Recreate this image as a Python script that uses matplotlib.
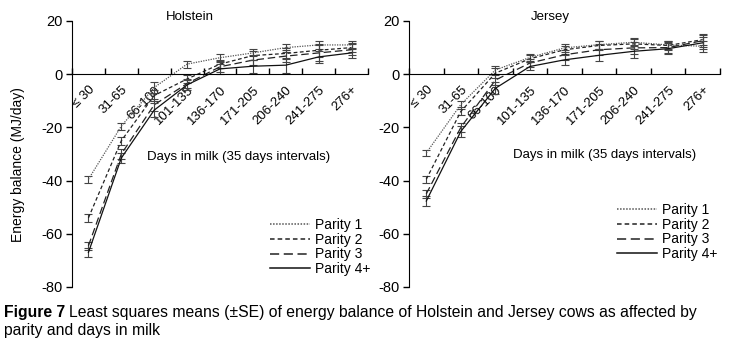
import matplotlib.pyplot as plt
from matplotlib.lines import Line2D

plt.rcParams['font.family'] = ['Liberation Sans', 'DejaVu Sans']
plt.rcParams['axes.unicode_minus'] = False

days = ['≤ 30', '31-65', '66-100', '101-135', '136-170', '171-205', '206-240', '241-275', '276+']
parities = ['Parity 1', 'Parity 2', 'Parity 3', 'Parity 4+']

# Holstein energy balance (MJ/day) per parity
hol_p1 = [-39.5, -19.5, -5.0, 3.8, 6.2, 8.0, 10.0, 11.0, 11.0]
hol_p2 = [-54.0, -25.0, -8.0, -1.8, 3.8, 7.0, 7.8, 9.0, 10.0]
hol_p3 = [-64.5, -30.0, -11.5, -3.5, 2.8, 5.3, 6.8, 8.0, 9.2]
hol_p4 = [-67.0, -31.5, -13.5, -4.0, 2.0, 3.0, 3.4, 6.5, 8.0]
hol_se = [
    [1.3, 1.3, 2.0, 1.3, 1.3, 1.3, 1.5, 1.5, 1.5],
    [1.5, 1.5, 2.0, 1.5, 1.5, 1.8, 2.0, 2.5, 1.8],
    [1.5, 1.8, 2.2, 1.8, 1.8, 2.0, 2.2, 3.0, 2.0],
    [1.8, 2.0, 2.5, 2.0, 2.0, 2.5, 2.8, 2.2, 1.8],
]

# Jersey energy balance (MJ/day) per parity
jer_p1 = [-29.6, -11.4, 1.6, 6.3, 9.9, 11.1, 12.0, 11.0, 10.5]
jer_p2 = [-39.5, -14.0, 0.4, 5.8, 9.2, 10.8, 11.4, 10.8, 13.0]
jer_p3 = [-45.0, -20.0, -2.2, 4.2, 7.3, 9.2, 9.9, 10.0, 12.6]
jer_p4 = [-47.7, -21.5, -5.3, 2.9, 5.4, 7.1, 8.6, 9.6, 11.8]
jer_se = [
    [1.2, 1.5, 1.5, 1.2, 1.5, 1.5, 1.5, 1.5, 2.0],
    [1.3, 1.5, 1.8, 1.3, 1.5, 1.8, 2.0, 1.8, 2.0],
    [1.5, 1.8, 2.0, 1.5, 1.8, 2.0, 2.2, 2.0, 2.2],
    [2.0, 2.0, 2.2, 1.5, 1.8, 2.2, 2.5, 2.0, 2.2],
]

styles = [(0, (1, 1)), (0, (3, 2)), (0, (6, 3)), '-']
line_colors = ['#555555', '#222222', '#222222', '#111111']

W, H = 729, 345
fig = plt.figure(figsize=(W / 100, H / 100), dpi=100)


def px_axes(x0, y0, x1, y1):
    return fig.add_axes([x0 / W, 1 - y1 / H, (x1 - x0) / W, (y1 - y0) / H])


def draw_panel(ax, series, se, title, title_xy, note_xy, leg_xy):
    x = list(range(len(days)))
    for vals, err, ls, c, lab in zip(series, se, styles, line_colors, parities):
        ax.errorbar(x, vals, yerr=err, fmt='none', ecolor='#444444',
                    elinewidth=0.8, capsize=3, capthick=0.8)
        ax.plot(x, vals, linestyle=ls, color=c, linewidth=0.9, label=lab)
    ax.set_xlim(-0.5, len(days) - 0.5)
    ax.set_ylim(-80, 20)
    ax.set_yticks([-80, -60, -40, -20, 0, 20])
    ax.tick_params(axis='y', direction='out', length=4, width=1, labelsize=10.5, pad=3)
    ax.spines['top'].set_visible(False)
    ax.spines['right'].set_visible(False)
    ax.spines['bottom'].set_position(('data', 0))
    ax.set_xticks([i - 0.5 for i in range(len(days) + 1)])
    ax.set_xticklabels([])
    ax.tick_params(axis='x', which='major', direction='in', length=4, width=1)
    ax.set_xticks(x, minor=True)
    ax.set_xticklabels(days, minor=True, rotation=45, ha='right',
                       rotation_mode='anchor', fontsize=9.5)
    ax.tick_params(axis='x', which='minor', length=0, pad=7)
    fig.text(title_xy[0] / W, 1 - title_xy[1] / H, title, ha='center', va='center', fontsize=9.5)
    fig.text(note_xy[0] / W, 1 - note_xy[1] / H, 'Days in milk (35 days intervals)',
             ha='center', va='center', fontsize=9.5)
    handles = [Line2D([], [], linestyle=ls, color=c, linewidth=1.1)
               for ls, c in zip(styles, line_colors)]
    ax.legend(handles, parities, loc='upper left',
              bbox_to_anchor=(leg_xy[0] / W, 1 - leg_xy[1] / H),
              bbox_transform=fig.transFigure, frameon=False, fontsize=10,
              handlelength=2.9, handletextpad=0.35, labelspacing=0.05,
              borderpad=0, borderaxespad=0)


ax1 = px_axes(72, 21, 368, 287)
draw_panel(ax1, [hol_p1, hol_p2, hol_p3, hol_p4], hol_se, 'Holstein',
           (190, 17), (239, 157), (270, 218))

ax2 = px_axes(409, 21, 720, 287)
draw_panel(ax2, [jer_p1, jer_p2, jer_p3, jer_p4], jer_se, 'Jersey',
           (550, 17), (605, 155), (617, 203))

fig.text(18 / W, 1 - 165 / H, 'Energy balance (MJ/day)', rotation=90,
         ha='center', va='center', fontsize=10)

# caption
t1 = fig.text(4 / W, 1 - 317 / H, 'Figure 7', fontweight='bold', fontsize=11.3, va='baseline')
renderer = fig.canvas.get_renderer()
bb = t1.get_window_extent(renderer)
fig.text(bb.x1 / W + 4 / W, 1 - 317 / H,
         'Least squares means (±SE) of energy balance of Holstein and Jersey cows as affected by',
         fontsize=11.3, va='baseline')
fig.text(4 / W, 1 - 335 / H, 'parity and days in milk', fontsize=11.3, va='baseline')

fig.savefig('out.png', dpi=100)
